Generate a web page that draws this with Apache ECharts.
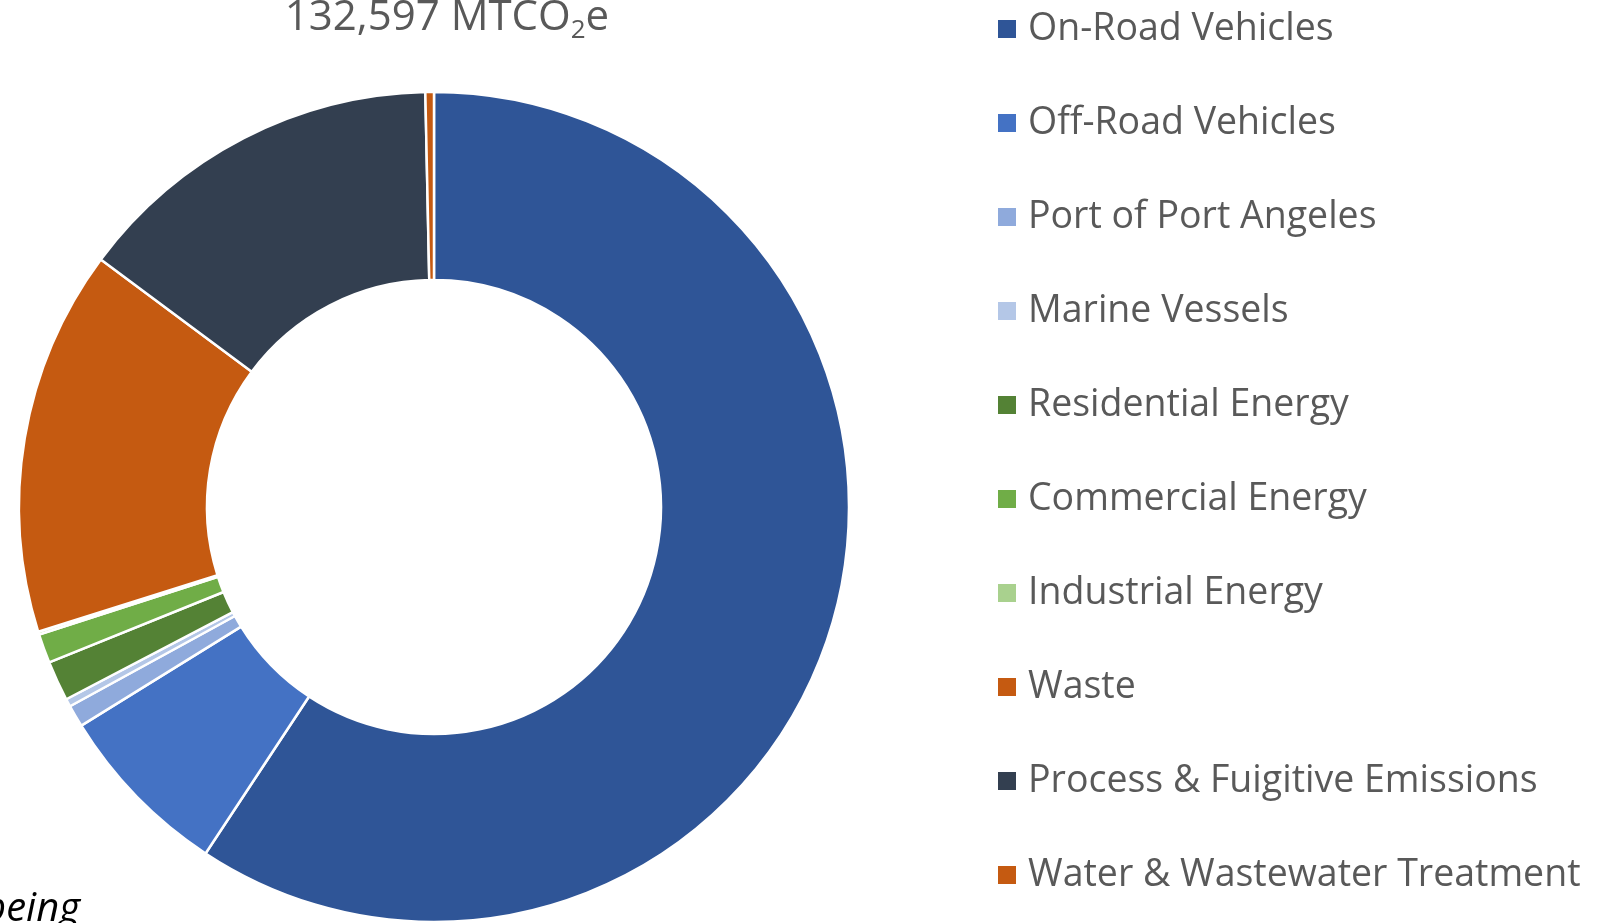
<!DOCTYPE html>
<html>
<head>
<meta charset="utf-8">
<script src="https://cdn.jsdelivr.net/npm/echarts@6/dist/echarts.min.js"></script>
<style>
  html, body { margin: 0; padding: 0; background: #fff; }
  #chart { width: 1600px; height: 923px; }
</style>
</head>
<body>
<div id="chart"></div>
<script>
// emission sectors, MTCO2e
var sectors = ['On-Road Vehicles', 'Off-Road Vehicles', 'Port of Port Angeles', 'Marine Vessels',
    'Residential Energy', 'Commercial Energy', 'Industrial Energy', 'Waste',
    'Process & Fuigitive Emissions', 'Water & Wastewater Treatment'];
var emissions = [78601, 9135, 1142, 405, 2063, 1510, 147, 19926, 19226, 442];
var colors = ['#2F5597', '#4472C4', '#8FAADC', '#B4C7E7', '#548235', '#70AD47', '#A9D18E',
    '#C55A11', '#333F50', '#C55A11'];
var totalLabel = '132,597';

var chart = echarts.init(document.getElementById('chart'));
var font = 'Open Sans';

var option = {
    animation: false,
    color: colors,
    legend: {
        orient: 'vertical',
        left: 991,
        top: 4,
        icon: 'rect',
        itemWidth: 20,
        itemHeight: 20,
        itemGap: 54,
        data: sectors,
        textStyle: {
            fontFamily: font,
            fontSize: 37.5,
            color: '#595959',
            lineHeight: 40,
            padding: [0, 0, 0, 6]
        }
    },
    graphic: [
        {
            type: 'text',
            x: 447,
            y: 18,
            style: {
                text: '{a|' + totalLabel + ' MTCO}{s|2}{a|e}',
                align: 'center',
                verticalAlign: 'middle',
                rich: {
                    a: { fontFamily: font, fontSize: 42, fill: '#595959', lineHeight: 50 },
                    s: { fontFamily: font, fontSize: 26, fill: '#595959', padding: [26, 0, 0, 0], lineHeight: 50 }
                }
            }
        },
        {
            type: 'text',
            x: 80,
            y: 910,
            style: {
                text: 'being',
                align: 'right',
                verticalAlign: 'middle',
                fontFamily: font,
                fontStyle: 'italic',
                fontSize: 40,
                fill: '#000'
            }
        }
    ],
    series: [{
        type: 'pie',
        center: [434, 507],
        radius: [227, 415],
        startAngle: 90,
        clockwise: true,
        avoidLabelOverlap: false,
        label: { show: false },
        labelLine: { show: false },
        itemStyle: { borderColor: '#fff', borderWidth: 2.5 },
        data: sectors.map(function (name, i) {
            return { name: name, value: emissions[i] };
        })
    }]
};
chart.setOption(option);
</script>
</body>
</html>
